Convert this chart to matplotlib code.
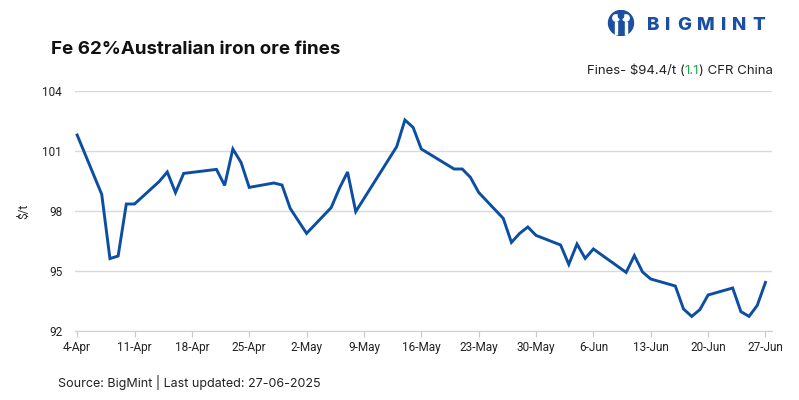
import matplotlib
matplotlib.use("Agg")
import matplotlib.pyplot as plt
import matplotlib.dates as mdates
from matplotlib.patches import Circle, Rectangle
import pandas as pd

plt.rcParams["font.family"] = ["Roboto", "DejaVu Sans"]

# price series, $/t
dates = ["2025-04-04", "2025-04-07", "2025-04-08", "2025-04-09", "2025-04-10", "2025-04-11",
         "2025-04-14", "2025-04-15", "2025-04-16", "2025-04-17", "2025-04-21", "2025-04-22",
         "2025-04-23", "2025-04-24", "2025-04-25", "2025-04-28", "2025-04-29", "2025-04-30",
         "2025-05-02", "2025-05-05", "2025-05-06", "2025-05-07", "2025-05-08", "2025-05-13",
         "2025-05-14", "2025-05-15", "2025-05-16", "2025-05-20", "2025-05-21", "2025-05-22",
         "2025-05-23", "2025-05-26", "2025-05-27", "2025-05-28", "2025-05-29", "2025-05-30",
         "2025-06-02", "2025-06-03", "2025-06-04", "2025-06-05", "2025-06-06", "2025-06-10",
         "2025-06-11", "2025-06-12", "2025-06-13", "2025-06-16", "2025-06-17", "2025-06-18",
         "2025-06-19", "2025-06-20", "2025-06-23", "2025-06-24", "2025-06-25", "2025-06-26",
         "2025-06-27"]
prices = [101.8, 98.83, 95.62, 95.75, 98.35, 98.35,
          99.47, 99.95, 98.92, 99.88, 100.08, 99.28,
          101.1, 100.43, 99.18, 99.4, 99.3, 98.13,
          96.88, 98.17, 99.13, 99.95, 97.97, 101.22,
          102.55, 102.18, 101.1, 100.1, 100.1, 99.68,
          98.93, 97.63, 96.43, 96.88, 97.2, 96.78,
          96.3, 95.33, 96.35, 95.63, 96.1, 94.93,
          95.77, 94.95, 94.6, 94.25, 93.1, 92.73,
          93.07, 93.8, 94.15, 92.97, 92.73, 93.28,
          94.43]
y_ticks = [92, 95, 98, 101, 104]

x = pd.to_datetime(dates)

fig = plt.figure(figsize=(7.99, 4.0), dpi=100)
ax = fig.add_axes([74.7 / 799, 1 - 331 / 400, (772 - 74.7) / 799, 240 / 400])

ax.plot(x, prices, color="#0b4ea2", linewidth=2.1, solid_joinstyle="miter")

# points sit ~3px right of the tick in the original
start = pd.Timestamp("2025-04-04")
ax.set_xlim(start - pd.Timedelta(days=0.3), start + pd.Timedelta(days=84.8))
ax.set_ylim(92, 104)
ax.set_yticks(y_ticks)
ax.set_xticks(pd.date_range(start, periods=13, freq="7D"))
ax.xaxis.set_major_formatter(mdates.DateFormatter("%-d-%b"))

ax.grid(axis="y", color="#d9d9d9", linewidth=1)
ax.set_axisbelow(True)
for s in ["top", "right", "left"]:
    ax.spines[s].set_visible(False)
ax.spines["bottom"].set_color("#d0d0d0")
ax.tick_params(axis="x", length=4, color="#c8c8c8", labelsize=8.5, labelcolor="#222222", pad=3)
ax.tick_params(axis="y", length=0, labelsize=8.5, labelcolor="#222222", pad=9)
ax.set_ylabel("$/t", fontsize=8.5, color="#222222", labelpad=9)

# title + subtitle
fig.text(51 / 799, 1 - 49 / 400, "Fe 62%Australian iron ore fines", fontsize=13.5,
         fontweight="bold", color="#111111", va="center", ha="left", family="Inter")

renderer = fig.canvas.get_renderer()
xr = 773
parts = [(") CFR China", "#222222"), ("1.1", "#1fa74a"), ("Fines- $94.4/t (", "#222222")]
for txt, col in parts:
    t = fig.text(xr / 799, 1 - 74 / 400, txt, fontsize=9.5, color=col, ha="right",
                 va="baseline", family="Inter")
    bb = t.get_window_extent(renderer)
    xr = bb.x0

fig.text(58 / 799, 1 - 382 / 400, "Source: BigMint | Last updated: 27-06-2025",
         fontsize=9, color="#222222", va="center", ha="left", family="Inter")

# logo
logo_blue = "#1b4fa3"
lax = fig.add_axes([603 / 799, 1 - 36 / 400, 36 / 799, 26 / 400])
lax.set_xlim(0, 36)
lax.set_ylim(0, 26)
lax.set_aspect("equal")
lax.axis("off")
lax.add_patch(Circle((18, 13), 12.5, color=logo_blue))
for cx in (13, 23):
    lax.add_patch(Circle((cx, 18), 3.2, color="white"))
    lax.add_patch(Rectangle((cx - 1.2, 2), 2.4, 12, color="white"))
lax.add_patch(Circle((18, 20), 2.6, color=logo_blue))

letters = "BIGMINT"
lx = 647
for ch in letters:
    t = fig.text(lx / 799, 1 - 30 / 400, ch, fontsize=13.5, fontweight="heavy",
                 color=logo_blue, ha="left", va="baseline", family="Inter")
    bb = t.get_window_extent(renderer)
    lx = bb.x1 + 6

fig.savefig("out.png", dpi=100)
